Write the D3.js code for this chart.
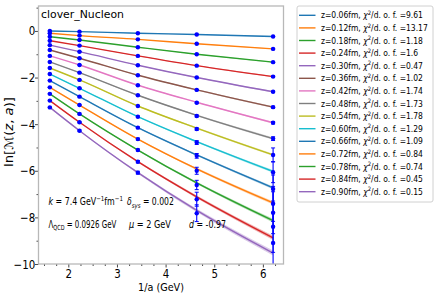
<!DOCTYPE html>
<html><head><meta charset="utf-8">
<script src="https://cdn.jsdelivr.net/npm/d3@7"></script>
<style>
body{margin:0;background:#fff}
svg{display:block}
text{font-family:"DejaVu Sans",sans-serif;fill:#000}
</style>
</head><body>
<svg id="c" width="436" height="300"></svg>
<script>
// ---------------- data ----------------
const zValues = [0.06,0.12,0.18,0.24,0.30,0.36,0.42,0.48,0.54,0.60,0.66,0.72,0.78,0.84,0.90];
const chi2Labels = ["9.61","13.17","1.18","1.6","0.47","1.02","1.74","1.73","1.78","1.29","1.09","0.84","0.74","0.45","0.15"];
const invA = [1.62, 2.23, 3.43, 4.64, 6.21];
const ptCol1 = [-0.00,-0.10,-0.25,-0.42,-0.61,-0.82,-1.07,-1.33,-1.59,-1.85,-2.13,-2.42,-2.70,-2.99,-3.28];
const ptCol2 = [-0.03,-0.20,-0.39,-0.63,-0.89,-1.17,-1.46,-1.79,-2.10,-2.46,-2.82,-3.18,-3.56,-3.92,-4.28];
const ptCol3 = [-0.10,-0.36,-0.70,-1.07,-1.47,-1.90,-2.33,-2.76,-3.22,-3.68,-4.15,-4.64,-5.11,-5.61,-6.08];
const ptCol4 = [-0.15,-0.55,-1.00,-1.49,-2.00,-2.53,-3.08,-3.65,-4.21,-4.79,-5.36,-6.00,-6.61,-7.22,-7.82];
const ptCol5 = [-0.24,-0.77,-1.34,-1.96,-2.61,-3.27,-3.94,-4.62,-5.32,-6.06,-6.78,-7.42,-7.80,-8.40,-9.10];
const errCol1 = [0.01,0.01,0.01,0.01,0.01,0.01,0.01,0.01,0.01,0.01,0.01,0.01,0.02,0.02,0.02];
const errCol2 = [0.01,0.01,0.01,0.01,0.01,0.01,0.01,0.01,0.02,0.02,0.02,0.02,0.03,0.03,0.03];
const errCol3 = [0.01,0.01,0.01,0.01,0.01,0.01,0.02,0.02,0.02,0.03,0.03,0.04,0.04,0.05,0.06];
const errCol4 = [0.01,0.01,0.01,0.01,0.02,0.02,0.03,0.04,0.05,0.08,0.10,0.15,0.20,0.30,0.36];
const errCol5 = [0.01,0.02,0.02,0.03,0.03,0.04,0.05,0.08,0.30,0.45,0.60,0.75,0.90,1.10,1.30];
// fitted curve values at each 1/a
const fitCol1 = [-0.00,-0.10,-0.25,-0.42,-0.61,-0.82,-1.07,-1.33,-1.59,-1.85,-2.13,-2.42,-2.70,-2.99,-3.28];
const fitCol2 = [-0.03,-0.20,-0.39,-0.63,-0.89,-1.17,-1.46,-1.79,-2.10,-2.46,-2.82,-3.18,-3.56,-3.92,-4.28];
const fitCol3 = [-0.10,-0.36,-0.70,-1.07,-1.47,-1.90,-2.33,-2.76,-3.22,-3.68,-4.15,-4.64,-5.11,-5.61,-6.08];
const fitCol4 = [-0.15,-0.55,-1.00,-1.49,-2.00,-2.53,-3.06,-3.62,-4.17,-4.75,-5.32,-5.92,-6.52,-7.12,-7.70];
const fitCol5 = [-0.24,-0.77,-1.34,-1.96,-2.61,-3.27,-3.94,-4.62,-5.32,-6.03,-6.73,-7.38,-8.14,-8.88,-9.53];
const bandEnd = [0.02,0.02,0.02,0.03,0.03,0.04,0.04,0.05,0.05,0.06,0.06,0.07,0.08,0.09,0.11];
const bandShape = [0.2,0.25,0.4,0.65,1.0];
const xTicks = [2,3,4,5,6];
const yTicks = [0,-2,-4,-6,-8,-10];
const palette = ["#1f77b4","#ff7f0e","#2ca02c","#d62728","#9467bd","#8c564b","#e377c2","#7f7f7f","#bcbd22","#17becf"];

// ---------------- layout ----------------
const L = 38.5, R = 283.5, T = 6, B = 264;
const svg = d3.select("#c");
const x = d3.scaleLinear().domain([1.387, 6.424]).range([L, R]);
const y = d3.scaleLinear().domain([-10, 1.07]).range([B, T]);

svg.append("defs").append("clipPath").attr("id","clip")
  .append("rect").attr("x",L).attr("y",T).attr("width",R-L).attr("height",B-T);

const pts = [ptCol1, ptCol2, ptCol3, ptCol4, ptCol5];
const errs = [errCol1, errCol2, errCol3, errCol4, errCol5];
const fits = [fitCol1, fitCol2, fitCol3, fitCol4, fitCol5];

const plot = svg.append("g").attr("clip-path","url(#clip)");
const curve = d3.curveMonotoneX;

// bands
zValues.forEach((z,i)=>{
  const c = palette[i%10];
  const rows = invA.map((xv,k)=>({x:xv, v:fits[k][i], e:bandEnd[i]*bandShape[k]}));
  plot.append("path").datum(rows)
    .attr("d", d3.area().curve(curve).x(d=>x(d.x)).y0(d=>y(d.v - d.e)).y1(d=>y(d.v + d.e)))
    .attr("fill", c).attr("opacity", 0.35);
});
// lines
zValues.forEach((z,i)=>{
  const c = palette[i%10];
  const rows = invA.map((xv,k)=>({x:xv, v:fits[k][i]}));
  plot.append("path").datum(rows)
    .attr("d", d3.line().curve(curve).x(d=>x(d.x)).y(d=>y(d.v)))
    .attr("fill","none").attr("stroke", c).attr("stroke-width", 1.4);
});
// error bars + points
zValues.forEach((z,i)=>{
  invA.forEach((xv,k)=>{
    const v = pts[k][i], e = errs[k][i];
    const px = x(xv);
    plot.append("line").attr("x1",px).attr("x2",px).attr("y1",y(v-e)).attr("y2",y(v+e))
      .attr("stroke","#0000ff").attr("stroke-width",1.1);
    [v-e, v+e].forEach(w=>{
      plot.append("line").attr("x1",px-2).attr("x2",px+2).attr("y1",y(w)).attr("y2",y(w))
        .attr("stroke","#0000ff").attr("stroke-width",1);
    });
  });
});
zValues.forEach((z,i)=>{
  invA.forEach((xv,k)=>{
    plot.append("circle").attr("cx",x(xv)).attr("cy",y(pts[k][i])).attr("r",2.2).attr("fill","#0000ff");
  });
});

// ---------------- axes ----------------
function squishTicks(g, f){
  g.selectAll(".tick text").attr("transform", `scale(${f},1)`);
}
const xMinor = d3.range(1.5, 6.5, 0.25).filter(v=>Math.abs(v-Math.round(v))>1e-6);
const yMinor = [1,-1,-3,-5,-7,-9];
const gxm = svg.append("g").attr("transform",`translate(0,${B})`)
  .call(d3.axisBottom(x).tickValues(xMinor).tickSize(2).tickFormat(""));
const gym = svg.append("g").attr("transform",`translate(${L},0)`)
  .call(d3.axisLeft(y).tickValues(yMinor.filter(v=>v<=1.07)).tickSize(2).tickFormat(""));
const gx = svg.append("g").attr("transform",`translate(0,${B})`)
  .call(d3.axisBottom(x).tickValues(xTicks).tickSize(3.5).tickPadding(1.5).tickFormat(d3.format("d")));
const gy = svg.append("g").attr("transform",`translate(${L},0)`)
  .call(d3.axisLeft(y).tickValues(yTicks).tickSize(3.5).tickPadding(0.5).tickFormat(d=> d<0 ? "\u2212"+Math.abs(d) : String(d)));
[gx,gy,gxm,gym].forEach(g=>{
  g.select(".domain").remove();
  g.selectAll(".tick line").attr("stroke","#333").attr("stroke-width",0.9);
  g.selectAll(".tick text").attr("font-size",12.5).attr("font-family","DejaVu Sans").attr("fill","#000");
});
squishTicks(gx, 0.82);
squishTicks(gy, 0.82);

// frame
svg.append("rect").attr("x",L).attr("y",T).attr("width",R-L).attr("height",B-T)
  .attr("fill","none").attr("stroke","#b8b8b8").attr("stroke-width",1.3);

// ---------------- texts ----------------
function fitted(x0, yb, target, anchor, size, build, rot){
  const g = svg.append("g");
  const t = g.append("text").attr("font-size", size).attr("text-anchor", anchor||"start");
  build(t);
  const w = t.node().getComputedTextLength();
  const f = target / w;
  g.attr("transform", `translate(${x0},${yb})${rot?` rotate(${rot})`:""} scale(${f},1)`);
  return g;
}
// title
fitted(41, 17.5, 83, "start", 10.6, t=>t.text("clover_Nucleon"));
// axis labels
fitted(161, 291, 46, "middle", 11, t=>t.text("1/a (GeV)"));
fitted(13, 132, 70, "middle", 12, t=>{
  t.append("tspan").text("ln[");
  t.append("tspan").text("\u2133").attr("font-style","italic");
  t.append("tspan").text("(");
  t.append("tspan").text("z").attr("font-style","italic");
  t.append("tspan").text(", ");
  t.append("tspan").text("a").attr("font-style","italic");
  t.append("tspan").text(")]");
}, -90);
// annotations
fitted(48.5, 205, 74.5, "start", 10, t=>{
  t.append("tspan").text("k").attr("font-style","italic");
  t.append("tspan").text(" = 7.4 GeV");
  t.append("tspan").text("\u22121").attr("font-size",7).attr("dy",-4);
  t.append("tspan").text("fm").attr("dy",4);
  t.append("tspan").text("\u22121").attr("font-size",7).attr("dy",-4);
});
fitted(127, 205, 47, "start", 10, t=>{
  t.append("tspan").text("\u03b4").attr("font-style","italic");
  t.append("tspan").text("sys").attr("font-size",7).attr("font-style","italic").attr("dy",2.5);
  t.append("tspan").text(" = 0.002").attr("dy",-2.5);
});
fitted(48.5, 227.5, 68, "start", 10, t=>{
  t.append("tspan").text("\u039b");
  t.append("tspan").text("QCD").attr("font-size",7).attr("dy",2.5);
  t.append("tspan").text(" = 0.0926 GeV").attr("dy",-2.5);
});
fitted(129, 227.5, 42, "start", 10, t=>{
  t.append("tspan").text("\u03bc").attr("font-style","italic");
  t.append("tspan").text(" = 2 GeV");
});
fitted(189, 227.5, 37, "start", 10, t=>{
  t.append("tspan").text("d").attr("font-style","italic");
  t.append("tspan").text(" = -0.97");
});

// ---------------- legend ----------------
const lgX = 297, lgY = 6, lgW = 136, lgH = 196;
svg.append("rect").attr("x",lgX).attr("y",lgY).attr("width",lgW).attr("height",lgH)
  .attr("rx",2).attr("fill","#fff").attr("fill-opacity",0.8).attr("stroke","#d0d0d0").attr("stroke-width",1);
const legendTexts = [];
zValues.forEach((z,i)=>{
  const cy = 15.3 + i*12.6;
  svg.append("line").attr("x1",299).attr("x2",315.5).attr("y1",cy).attr("y2",cy)
    .attr("stroke",palette[i%10]).attr("stroke-width",1.4);
  const g = svg.append("g");
  const t = g.append("text").attr("font-size",8.6);
  t.append("tspan").text(`z=${z.toFixed(2)}fm, `);
  t.append("tspan").text("\u03c7").attr("font-style","italic");
  t.append("tspan").text("2").attr("font-size",6).attr("dy",-3.5);
  t.append("tspan").text("/d. o. f. =" + chi2Labels[i]).attr("dy",3.5);
  legendTexts.push({g, t, cy});
});
const f0 = 102 / legendTexts[0].t.node().getComputedTextLength();
legendTexts.forEach(({g,cy})=>{
  g.attr("transform",`translate(321,${cy+3.1}) scale(${f0},1)`);
});
</script>
</body></html>
